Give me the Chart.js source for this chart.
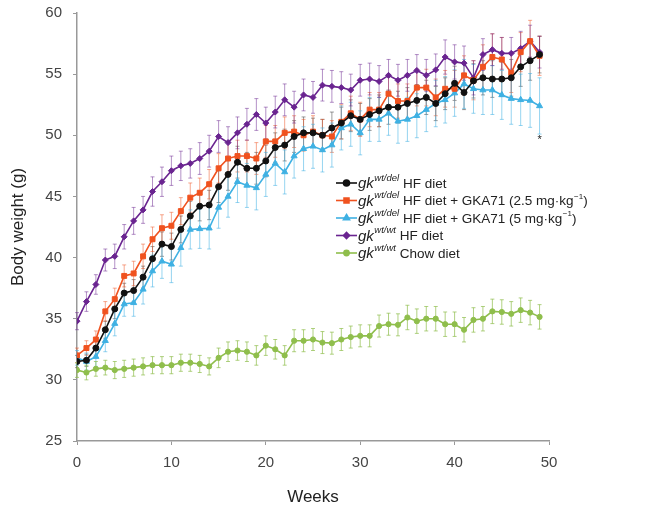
<!DOCTYPE html>
<html>
<head>
<meta charset="utf-8">
<script src="https://cdn.jsdelivr.net/npm/chart.js@4.4.0/dist/chart.umd.min.js"></script>
<style>
  html, body { margin: 0; padding: 0; background: #fff; }
  #wrap { width: 668px; height: 512px; }
</style>
</head>
<body>
<div id="wrap"><canvas id="chart"></canvas></div>
<script>
const weeks = [0, 1, 2, 3, 4, 5, 6, 7, 8, 9, 10, 11, 12, 13, 14, 15, 16, 17, 18, 19,
  20, 21, 22, 23, 24, 25, 26, 27, 28, 29, 30, 31, 32, 33, 34, 35, 36, 37, 38, 39,
  40, 41, 42, 43, 44, 45, 46, 47, 48, 49];

// gk wt/del HF diet
const hfDel = [31.5, 31.6, 32.6, 34.1, 35.8, 37.1, 37.3, 38.4, 39.9, 41.1, 40.9, 42.3, 43.4, 44.2, 44.3, 45.8, 46.8, 47.8, 47.3, 47.3,
  47.9, 49.0, 49.2, 49.9, 50.2, 50.2, 50.0, 50.6, 51.0, 51.6, 51.3, 51.7, 52.0, 52.3, 52.3, 52.6, 52.85, 53.1, 52.6, 53.4,
  54.25, 53.5, 54.45, 54.7, 54.6, 54.6, 54.7, 55.6, 56.1, 56.6];
const hfDelErr = [0.5, 0.5, 0.6, 0.7, 0.8, 0.8, 0.9, 0.9, 1.0, 1.0, 1.1, 1.1, 1.2, 1.2, 1.2, 1.3, 1.3, 1.3, 1.3, 1.3,
  1.3, 1.2, 1.3, 1.3, 1.3, 1.2, 1.3, 1.3, 1.3, 1.3, 1.3, 1.3, 1.3, 1.4, 1.3, 1.3, 1.3, 1.4, 1.4, 1.3,
  1.4, 1.4, 1.4, 1.4, 1.5, 1.4, 1.5, 1.6, 1.6, 1.5];

// gk wt/del HF diet + GKA71 2.5 mg/kg
const gka25 = [32.0, 32.6, 33.3, 35.6, 36.6, 38.5, 38.7, 40.1, 41.5, 42.4, 42.6, 43.8, 44.9, 45.3, 46.0, 47.3, 48.1, 48.3, 48.3, 48.1,
  49.5, 49.5, 50.2, 50.3, 50.0, 50.3, 50.0, 49.9, 51.1, 51.8, 51.3, 52.1, 52.1, 53.4, 52.8, 52.8, 53.9, 53.9, 53.1, 53.8,
  53.8, 54.9, 54.5, 55.6, 56.4, 56.2, 55.1, 56.8, 57.7, 56.5];
const gka25Err = [0.6, 0.6, 0.7, 0.8, 0.9, 0.9, 1.0, 1.0, 1.0, 1.1, 1.1, 1.1, 1.2, 1.2, 1.2, 1.2, 1.3, 1.3, 1.3, 1.3,
  1.3, 1.3, 1.3, 1.3, 1.3, 1.3, 1.3, 1.3, 1.4, 1.4, 1.4, 1.4, 1.4, 1.4, 1.4, 1.4, 1.5, 1.5, 1.5, 1.5,
  1.5, 1.6, 1.6, 1.8, 1.9, 1.8, 1.6, 1.6, 1.7, 1.6];

// gk wt/del HF diet + GKA71 5 mg/kg
const gka5 = [31.8, 31.5, 31.9, 33.2, 34.6, 36.2, 36.3, 37.4, 38.9, 39.7, 39.45, 40.8, 42.3, 42.35, 42.4, 44.1, 45.0, 46.2, 45.9, 45.7,
  46.8, 47.7, 47.0, 48.3, 48.9, 49.1, 48.8, 49.2, 50.6, 50.9, 50.2, 51.3, 51.3, 51.8, 51.15, 51.3, 51.6, 52.1, 52.6, 52.9,
  53.45, 54.2, 53.8, 53.7, 53.7, 53.3, 53.0, 52.9, 52.85, 52.4];
const gka5Err = [0.6, 0.7, 0.8, 0.9, 1.0, 1.0, 1.1, 1.2, 1.3, 1.4, 1.5, 1.5, 1.6, 1.6, 1.7, 1.7, 1.7, 1.7, 1.8, 1.8,
  1.8, 1.8, 1.8, 1.8, 1.8, 1.8, 1.8, 1.8, 1.8, 1.8, 1.8, 1.8, 1.8, 1.8, 1.8, 1.8, 1.8, 1.8, 1.9, 1.9,
  1.9, 2.0, 2.0, 2.0, 2.0, 2.0, 2.1, 2.1, 2.2, 2.3];

// gk wt/wt HF diet
const hfWt = [34.8, 36.4, 37.8, 39.8, 40.1, 41.7, 43.0, 43.9, 45.4, 46.2, 47.1, 47.5, 47.7, 48.1, 48.7, 49.9, 49.4, 50.2, 50.9, 51.7,
  51.0, 51.9, 52.9, 52.3, 53.3, 53.1, 54.1, 54.0, 53.9, 53.7, 54.5, 54.6, 54.4, 54.9, 54.5, 54.9, 55.3, 54.9, 55.35, 56.4,
  56.0, 55.9, 54.7, 56.6, 57.0, 56.7, 56.7, 57.1, 57.7, 56.8];
const hfWtErr = [0.7, 0.8, 0.8, 0.9, 1.0, 1.0, 1.1, 1.1, 1.2, 1.2, 1.2, 1.2, 1.2, 1.3, 1.3, 1.3, 1.3, 1.3, 1.3, 1.3,
  1.3, 1.3, 1.3, 1.3, 1.3, 1.3, 1.3, 1.3, 1.3, 1.3, 1.3, 1.3, 1.3, 1.3, 1.3, 1.3, 1.3, 1.3, 1.3, 1.4,
  1.4, 1.4, 1.4, 1.3, 1.3, 1.3, 1.3, 1.4, 1.3, 1.3];

// gk wt/wt Chow diet
const chowWt = [30.8, 30.6, 30.9, 31.0, 30.8, 30.9, 31.0, 31.1, 31.2, 31.2, 31.2, 31.4, 31.4, 31.3, 31.1, 31.8, 32.3, 32.4, 32.3, 32.0,
  32.8, 32.5, 32.0, 33.2, 33.2, 33.3, 33.05, 33.0, 33.3, 33.5, 33.6, 33.6, 34.4, 34.55, 34.5, 35.1, 34.8, 35.0, 35.0, 34.55,
  34.55, 34.1, 34.9, 35.0, 35.6, 35.55, 35.4, 35.7, 35.5, 35.15];
const chowWtErr = [0.6, 0.6, 0.6, 0.6, 0.7, 0.7, 0.7, 0.7, 0.7, 0.7, 0.7, 0.7, 0.7, 0.7, 0.7, 0.8, 0.8, 0.8, 0.8, 0.8,
  0.8, 0.8, 0.8, 0.9, 0.9, 0.9, 0.9, 0.9, 0.9, 0.9, 0.9, 0.9, 0.9, 0.9, 0.9, 1.0, 1.0, 1.0, 1.0, 1.0,
  1.0, 1.0, 1.0, 1.0, 1.0, 1.0, 1.0, 1.0, 1.0, 1.0];

const xTicks = [0, 10, 20, 30, 40, 50];
const yTicks = [25, 30, 35, 40, 45, 50, 55, 60];
const starMark = [49, 49.6];

// each label: italic "gk", genotype superscript, text, optional superscript, closing text
const seriesNames = [
  { sup: 'wt/del', rest: ' HF diet', sup2: '', tail: '' },
  { sup: 'wt/del', rest: ' HF diet + GKA71 (2.5 mg\u00b7kg', sup2: '\u22121', tail: ')' },
  { sup: 'wt/del', rest: ' HF diet + GKA71 (5 mg\u00b7kg', sup2: '\u22121', tail: ')' },
  { sup: 'wt/wt', rest: ' HF diet', sup2: '', tail: '' },
  { sup: 'wt/wt', rest: ' Chow diet', sup2: '', tail: '' },
];

const FONT = "'Liberation Sans', Arial, sans-serif";

function toPoints(vals) {
  return vals.map((v, i) => ({ x: weeks[i], y: v }));
}

function makeSet(vals, err, color, errColor, pointStyle, radius) {
  return {
    data: toPoints(vals),
    err: err,
    errColor: errColor,
    borderColor: color,
    backgroundColor: color,
    pointBackgroundColor: color,
    pointBorderColor: color,
    pointStyle: pointStyle,
    pointRadius: radius,
    pointBorderWidth: 1,
    borderWidth: 1.6,
    tension: 0,
  };
}

const datasets = [
  makeSet(hfDel, hfDelErr, '#111111', 'rgba(60,60,60,0.5)', 'circle', 3),
  makeSet(gka25, gka25Err, '#f0521f', 'rgba(240,82,31,0.5)', 'rect', 3.5),
  makeSet(gka5, gka5Err, '#3fb1e3', 'rgba(63,177,227,0.55)', 'triangle', 3.5),
  makeSet(hfWt, hfWtErr, '#6a2490', 'rgba(106,36,144,0.5)', 'rectRot', 3),
  makeSet(chowWt, chowWtErr, '#8fbe4c', 'rgba(143,190,76,0.7)', 'circle', 2.6),
];

const errorBars = {
  id: 'errorBars',
  beforeDatasetsDraw(chart) {
    const ctx = chart.ctx;
    const xs = chart.scales.x, ys = chart.scales.y;
    chart.data.datasets.forEach((ds) => {
      ctx.save();
      ctx.strokeStyle = ds.errColor;
      ctx.lineWidth = 1;
      ds.data.forEach((p, j) => {
        const e = ds.err[j];
        const px = xs.getPixelForValue(p.x);
        const top = ys.getPixelForValue(p.y + e);
        const bot = ys.getPixelForValue(p.y - e);
        ctx.beginPath();
        ctx.moveTo(px, top); ctx.lineTo(px, bot);
        ctx.moveTo(px - 2, top); ctx.lineTo(px + 2, top);
        ctx.moveTo(px - 2, bot); ctx.lineTo(px + 2, bot);
        ctx.stroke();
      });
      ctx.restore();
    });
  }
};

function textRun(ctx, str, font, x, y) {
  ctx.font = font;
  ctx.fillText(str, x, y);
  return x + ctx.measureText(str).width;
}

// legend with italic gk and superscript genotype
const richLegend = {
  id: 'richLegend',
  afterDraw(chart) {
    const ctx = chart.ctx;
    const area = chart.chartArea;
    const x0 = area.left + 259;
    const y0 = area.top + 170;
    const rowH = 17.5;
    ctx.save();
    chart.data.datasets.forEach((ds, i) => {
      const y = y0 + i * rowH;
      const nm = seriesNames[i];
      ctx.strokeStyle = ds.borderColor;
      ctx.lineWidth = 1.6;
      ctx.beginPath();
      ctx.moveTo(x0, y);
      ctx.lineTo(x0 + 21, y);
      ctx.stroke();
      Chart.helpers.drawPoint(ctx, {
        pointStyle: ds.pointStyle, radius: ds.pointRadius, borderWidth: 1, rotation: 0
      }, x0 + 10.5, y);
      ctx.fillStyle = ds.borderColor;
      ctx.fill();
      ctx.fillStyle = '#222';
      ctx.textBaseline = 'middle';
      let tx = x0 + 22;
      tx = textRun(ctx, 'gk', 'italic 15px ' + FONT, tx, y + 1) + 0.5;
      tx = textRun(ctx, nm.sup, 'italic 9.5px ' + FONT, tx, y - 5);
      tx = textRun(ctx, nm.rest, '13.5px ' + FONT, tx, y + 1);
      if (nm.sup2) {
        tx = textRun(ctx, nm.sup2, '8px ' + FONT, tx + 0.5, y - 4);
        textRun(ctx, nm.tail, '13.5px ' + FONT, tx, y + 1);
      }
    });
    // significance mark
    const sx = chart.scales.x.getPixelForValue(starMark[0]);
    const sy = chart.scales.y.getPixelForValue(starMark[1]);
    ctx.fillStyle = '#222';
    ctx.font = '11px ' + FONT;
    ctx.textAlign = 'center';
    ctx.fillText('*', sx, sy);
    ctx.restore();
  }
};

const ctx = document.getElementById('chart').getContext('2d');
new Chart(ctx, {
  type: 'line',
  data: { datasets: datasets },
  options: {
    responsive: true,
    maintainAspectRatio: false,
    animation: false,
    layout: { padding: { top: 13, right: 119, left: 0, bottom: 0 } },
    plugins: { legend: { display: false }, tooltip: { enabled: false } },
    scales: {
      x: {
        type: 'linear',
        min: 0,
        max: 50,
        afterBuildTicks: (s) => { s.ticks = xTicks.map(v => ({ value: v })); },
        afterFit: (s) => { s.height = 71; s.paddingLeft = 0; s.paddingRight = 0; },
        ticks: { color: '#444', font: { size: 15, family: FONT }, padding: 9 },
        grid: { drawOnChartArea: false, drawTicks: true, tickLength: 4, color: '#999' },
        border: { color: '#999', width: 1.5 },
        title: { display: true, text: 'Weeks', color: '#222', font: { size: 17, family: FONT }, padding: { top: 0, bottom: 4 } },
      },
      y: {
        min: 25,
        max: 60,
        afterBuildTicks: (s) => { s.ticks = yTicks.map(v => ({ value: v })); },
        afterFit: (s) => { s.width = 77; s.paddingTop = 0; s.paddingBottom = 0; },
        ticks: { color: '#444', font: { size: 15, family: FONT }, padding: 11 },
        grid: { drawOnChartArea: false, drawTicks: true, tickLength: 4, color: '#999' },
        border: { color: '#999', width: 1.5 },
        title: { display: true, text: 'Body weight (g)', color: '#222', font: { size: 17, family: FONT }, padding: { top: 8, bottom: 0 } },
      },
    },
  },
  plugins: [errorBars, richLegend],
});
</script>
</body>
</html>
